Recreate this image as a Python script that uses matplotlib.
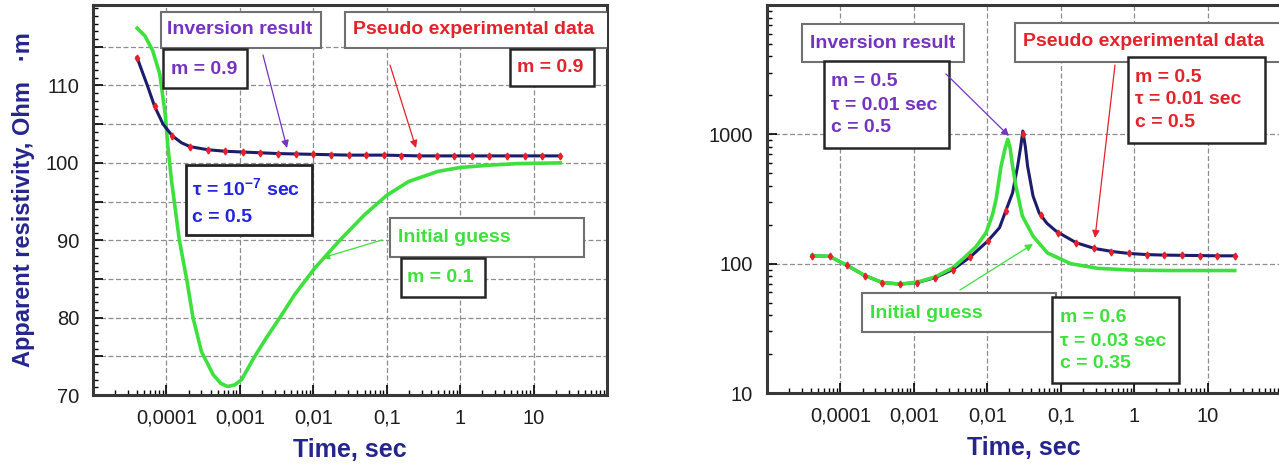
import matplotlib
matplotlib.use('Agg')
import matplotlib.pyplot as plt
import matplotlib.ticker as mticker
from matplotlib.patches import Rectangle

plt.rcParams['font.family'] = ['Liberation Sans', 'DejaVu Sans']
plt.rcParams['mathtext.default'] = 'regular'

# ---- data ----
# left panel (linear resistivity)
t_data_left = [3.98e-5, 6.9e-5, 1.2e-4, 2.09e-4, 3.63e-4, 6.3e-4, 1.1e-3, 1.91e-3, 3.31e-3,
               5.75e-3, 1.0e-2, 1.74e-2, 3.02e-2, 5.25e-2, 9.1e-2, 0.158, 0.275, 0.479,
               0.83, 1.45, 2.51, 4.37, 7.6, 13.2, 22.9]
rho_data_left = [113.6, 107.3, 103.5, 102.1, 101.7, 101.5, 101.4, 101.3, 101.2,
                 101.1, 101.1, 101.0, 101.0, 101.0, 101.0, 100.9, 100.9, 100.9,
                 100.9, 100.9, 100.9, 100.9, 100.9, 100.9, 100.9]
t_inv_left = [3.98e-5, 5.5e-5, 6.9e-5, 9.0e-5, 1.2e-4, 1.6e-4, 2.09e-4, 3.63e-4, 6.3e-4,
              1.1e-3, 3.31e-3, 1.0e-2, 3.02e-2, 9.1e-2, 0.275, 0.83, 2.51, 7.6, 22.9]
rho_inv_left = [113.6, 110.0, 107.3, 105.0, 103.5, 102.6, 102.1, 101.7, 101.5,
                101.4, 101.2, 101.1, 101.0, 101.0, 100.9, 100.9, 100.9, 100.9, 100.9]
t_guess_left = [4.0e-5, 5.1e-5, 6.5e-5, 8.1e-5, 9.6e-5, 1.05e-4, 1.17e-4, 1.5e-4, 1.9e-4,
                2.3e-4, 3.0e-4, 4.35e-4, 5.5e-4, 6.8e-4, 8.5e-4, 1.06e-3, 1.55e-3, 2.3e-3,
                3.4e-3, 5.6e-3, 1.07e-2, 2.3e-2, 5.0e-2, 0.1, 0.2, 0.5, 1.0, 2.5, 6.0, 23.0]
rho_guess_left = [117.4, 116.4, 114.5, 111.5, 106.4, 102.0, 97.8, 90.0, 84.8,
                  80.0, 75.6, 72.6, 71.5, 71.1, 71.3, 72.0, 74.8, 77.4,
                  79.8, 83.0, 86.5, 90.0, 93.3, 95.8, 97.6, 98.9, 99.4, 99.7, 99.9, 100.0]

# right panel (log resistivity)
t_data_right = [4.07e-5, 7.1e-5, 1.23e-4, 2.14e-4, 3.72e-4, 6.5e-4, 1.12e-3, 1.95e-3, 3.39e-3,
                5.9e-3, 1.02e-2, 1.78e-2, 3.09e-2, 5.4e-2, 9.3e-2, 0.162, 0.28, 0.49,
                0.85, 1.48, 2.57, 4.47, 7.8, 13.5, 23.4]
rho_data_right = [115, 114, 97, 81, 71.5, 69.5, 71.5, 78, 90,
                  113, 150, 255, 1000, 238, 173, 145, 131, 124,
                  120, 117.5, 116.5, 116, 115.5, 115, 115]
t_inv_right = [4.07e-5, 7.1e-5, 1.23e-4, 2.14e-4, 3.72e-4, 6.5e-4, 1.12e-3, 1.95e-3, 3.39e-3,
               5.9e-3, 1.02e-2, 1.47e-2, 1.78e-2, 2.21e-2, 2.59e-2, 2.85e-2, 3.05e-2, 3.3e-2,
               3.54e-2, 4.2e-2, 5.1e-2, 6.5e-2, 8.7e-2, 0.163, 0.29, 0.51, 0.85, 1.48,
               2.57, 4.47, 7.8, 13.5, 23.4]
rho_inv_right = [115, 114, 97, 81, 71.5, 69.5, 71.5, 78, 90,
                 113, 150, 190, 255, 353, 567, 800, 1060, 800,
                 567, 333, 246, 205, 178, 145, 131, 124, 120, 117.5,
                 116.5, 116, 115.5, 115, 115]
t_guess_right = [4.07e-5, 7.1e-5, 1.23e-4, 2.14e-4, 3.72e-4, 6.5e-4, 1.12e-3, 1.95e-3, 3.39e-3,
                 5.1e-3, 7.0e-3, 9.6e-3, 1.18e-2, 1.32e-2, 1.54e-2, 1.75e-2, 1.9e-2, 2.05e-2,
                 2.21e-2, 2.45e-2, 3.0e-2, 4.2e-2, 6.6e-2, 0.137, 0.32, 1.0, 3.0, 10.0, 23.4]
rho_guess_right = [115, 114, 97, 81, 71.5, 69.5, 72, 79, 93,
                   114, 135, 173, 240, 316, 567, 780, 915, 780,
                   567, 400, 234, 163, 121, 100, 92, 89, 88.5, 88.5, 88.5]

x_tick_vals = [1e-4, 1e-3, 1e-2, 1e-1, 1, 10]
x_tick_labels = ['0,0001', '0,001', '0,01', '0,1', '1', '10']
y_tick_vals_left = [70, 75, 80, 85, 90, 95, 100, 105, 110, 115]
y_tick_labels_left = ['70', '', '80', '', '90', '', '100', '', '110', '']
y_tick_vals_right = [10, 100, 1000, 10000]
y_tick_labels_right = ['10', '100', '1000', '']

# colours
NAVY = '#1c1c6c'
GREEN = '#3ee03e'
RED = '#e3222b'
PURPLE = '#7433c0'
BLUE = '#2424e0'
LABEL = '#25258c'

W, H = 1279, 465
fig = plt.figure(figsize=(W / 100, H / 100), dpi=100)
fig.patch.set_facecolor('white')


def fxy(x, y):
    # picture pixel (top-left origin) -> figure fraction
    return (x / W, 1 - y / H)


def add_box(ax, x0, y0, x1, y1, ec='#262626', lw=1.8):
    ax.add_patch(Rectangle(fxy(x0, y1), (x1 - x0) / W, (y1 - y0) / H,
                           transform=fig.transFigure, facecolor='white',
                           edgecolor=ec, lw=lw, zorder=5))


def add_text(ax, x, y, s, color, size=14):
    ax.text(*fxy(x, y), s, transform=fig.transFigure, color=color, fontsize=size,
            fontweight='bold', ha='left', va='center', zorder=6, clip_on=True)


def add_arrow(ax, tail, tip, color):
    ax.annotate('', xy=fxy(*tip), xytext=fxy(*tail), xycoords='figure fraction',
                textcoords='figure fraction', zorder=7,
                arrowprops=dict(arrowstyle='-|>', color=color, lw=0.9,
                                mutation_scale=11, shrinkA=0, shrinkB=0))


def style_axes(ax):
    ax.set_xscale('log')
    ax.set_xlim(1e-5, 100)
    ax.set_xticks(x_tick_vals, x_tick_labels)
    ax.xaxis.set_minor_locator(mticker.LogLocator(base=10, subs=range(2, 10), numticks=20))
    ax.xaxis.set_minor_formatter(mticker.NullFormatter())
    ax.grid(True, which='major', ls=(0, (4, 2)), color='#8e8e8e', lw=0.9)
    ax.tick_params(which='both', direction='in', top=False, right=False,
                   labelsize=14.5, labelcolor='#1e1e1e', pad=10)
    ax.tick_params(which='major', length=7, width=1.2)
    ax.tick_params(which='minor', length=3.5, width=1)
    for s in ax.spines.values():
        s.set_color('#383838')
        s.set_linewidth(2.2)
    ax.set_xlabel('Time, sec', fontsize=18, fontweight='bold', color=LABEL, labelpad=7)


# ---------------- left panel ----------------
axL = fig.add_axes([93 / W, 1 - 395 / H, 514 / W, 390 / H])
style_axes(axL)
axL.set_ylim(70, 120.4)
axL.set_yticks(y_tick_vals_left, y_tick_labels_left)
axL.yaxis.set_minor_locator(mticker.MultipleLocator(1))
axL.set_ylabel('Apparent resistivity, Ohm   \u00b7m', fontsize=17, fontweight='bold',
               color=LABEL, labelpad=8)

axL.plot(t_guess_left, rho_guess_left, color=GREEN, lw=2.6, zorder=3)
axL.plot(t_inv_left, rho_inv_left, color=NAVY, lw=2.2, zorder=3.5)
axL.plot(t_data_left, rho_data_left, ls='none', marker='d', ms=3.5, color=RED, zorder=4)

add_box(axL, 161, 12, 321, 48, ec='#707070', lw=1.5)
add_text(axL, 167, 30, 'Inversion result', PURPLE)
add_box(axL, 163, 49, 247, 88)
add_text(axL, 171, 69, 'm = 0.9', PURPLE)
add_arrow(axL, (263, 55), (287, 148), PURPLE)

add_box(axL, 345, 12, 620, 48, ec='#707070', lw=1.5)
add_text(axL, 353, 30, 'Pseudo experimental data', RED)
add_box(axL, 510, 49, 594, 86)
add_text(axL, 517, 68, 'm = 0.9', RED)
add_arrow(axL, (390, 65), (416, 148), RED)

add_box(axL, 186, 165, 312, 235, lw=2)
add_text(axL, 192, 188, '\u03c4 = 10$^{-7}$ sec', BLUE)
add_text(axL, 192, 218, 'c = 0.5', BLUE)

add_box(axL, 390, 218, 584, 257, ec='#707070', lw=1.5)
add_text(axL, 398, 237, 'Initial guess', GREEN)
add_box(axL, 401, 258, 485, 297)
add_text(axL, 407, 277, 'm = 0.1', GREEN)
add_arrow(axL, (382, 240), (322, 258), GREEN)

# ---------------- right panel ----------------
axR = fig.add_axes([767 / W, 1 - 393 / H, 514 / W, 388 / H])
style_axes(axR)
axR.set_yscale('log')
axR.set_ylim(10, 10000)
axR.set_yticks(y_tick_vals_right, y_tick_labels_right)
axR.yaxis.set_minor_locator(mticker.LogLocator(base=10, subs=range(2, 10), numticks=20))
axR.yaxis.set_minor_formatter(mticker.NullFormatter())

axR.plot(t_inv_right, rho_inv_right, color=NAVY, lw=2.2, zorder=3)
axR.plot(t_guess_right, rho_guess_right, color=GREEN, lw=2.6, zorder=3.5)
axR.plot(t_data_right, rho_data_right, ls='none', marker='d', ms=3.5, color=RED, zorder=4)

add_box(axR, 802, 24, 964, 62, ec='#707070', lw=1.5)
add_text(axR, 810, 43, 'Inversion result', PURPLE)
add_box(axR, 824, 61, 949, 148)
add_text(axR, 831, 82, 'm = 0.5', PURPLE)
add_text(axR, 831, 105, '\u03c4 = 0.01 sec', PURPLE)
add_text(axR, 831, 127, 'c = 0.5', PURPLE)
add_arrow(axR, (946, 74), (1009, 136), PURPLE)

add_box(axR, 1015, 23, 1300, 62, ec='#707070', lw=1.5)
add_text(axR, 1023, 42, 'Pseudo experimental data', RED)
add_box(axR, 1128, 57, 1265, 143)
add_text(axR, 1135, 78, 'm = 0.5', RED)
add_text(axR, 1135, 100, '\u03c4 = 0.01 sec', RED)
add_text(axR, 1135, 122, 'c = 0.5', RED)
add_arrow(axR, (1115, 65), (1095, 238), RED)

add_box(axR, 862, 293, 1056, 332, ec='#707070', lw=1.5)
add_text(axR, 870, 313, 'Initial guess', GREEN)
add_box(axR, 1052, 297, 1179, 383)
add_text(axR, 1060, 318, 'm = 0.6', GREEN)
add_text(axR, 1060, 341, '\u03c4 = 0.03 sec', GREEN)
add_text(axR, 1060, 363, 'c = 0.35', GREEN)
add_arrow(axR, (960, 290), (1033, 244), GREEN)

fig.savefig('out.png', dpi=100, facecolor='white')
